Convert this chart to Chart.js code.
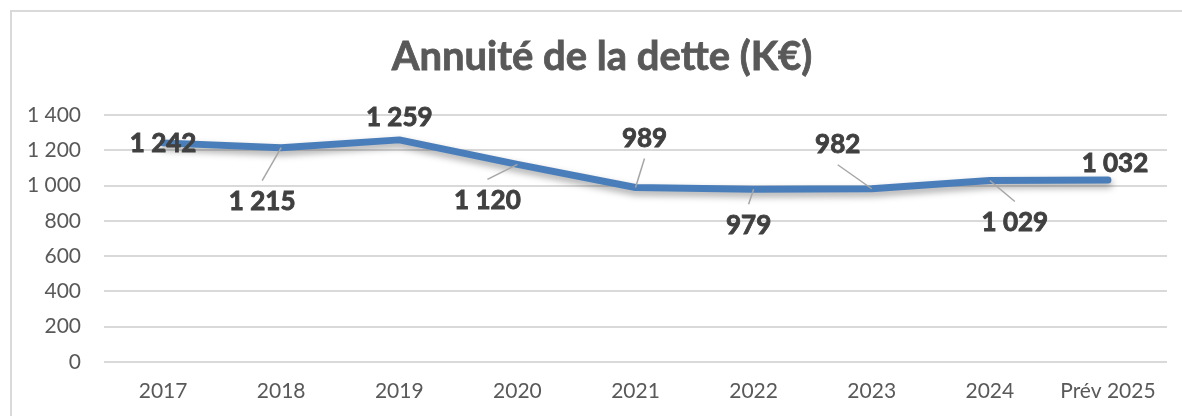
<!DOCTYPE html>
<html>
<head>
<meta charset="utf-8">
<script src="https://cdn.jsdelivr.net/npm/chart.js@4"></script>
<style>
  html, body { margin: 0; padding: 0; background: #ffffff; }
  #wrap { width: 1182px; height: 416px; position: relative; }
</style>
</head>
<body>
<div id="wrap"><canvas id="c" width="1182" height="416"></canvas></div>
<script>
const titleText = "Annuité de la dette (K€)";
const categories = ["2017", "2018", "2019", "2020", "2021", "2022", "2023", "2024", "Prév 2025"];
const annuite = [1242, 1215, 1259, 1120, 989, 979, 982, 1029, 1032];
const yTicks = [0, 200, 400, 600, 800, 1000, 1200, 1400];

function fmt(v) {
  return String(v).replace(/\B(?=(\d{3})+(?!\d))/g, " ");
}

const frame = {
  id: "frame",
  beforeDraw(chart) {
    const ctx = chart.ctx;
    ctx.save();
    ctx.fillStyle = "#ffffff";
    ctx.fillRect(0, 0, chart.width, chart.height);
    ctx.strokeStyle = "#d9d9d9";
    ctx.lineWidth = 2;
    ctx.beginPath();
    ctx.moveTo(11, chart.height);
    ctx.lineTo(11, 11);
    ctx.lineTo(chart.width, 11);
    ctx.stroke();
    ctx.fillStyle = "#595959";
    ctx.strokeStyle = "#595959";
    ctx.lineWidth = 0.8;
    ctx.font = "bold 40px Lato";
    ctx.textAlign = "center";
    ctx.textBaseline = "middle";
    ctx.fillText(titleText, 602, 57);
    ctx.strokeText(titleText, 602, 57);
    ctx.restore();
  }
};

const shadow = {
  id: "shadow",
  beforeDatasetDraw(chart) {
    const ctx = chart.ctx;
    ctx.save();
    ctx.shadowColor = "rgba(0,0,0,0.35)";
    ctx.shadowBlur = 7;
    ctx.shadowOffsetX = 1;
    ctx.shadowOffsetY = 4;
  },
  afterDatasetDraw(chart) {
    chart.ctx.restore();
  }
};

const labels = {
  id: "labels",
  afterDatasetsDraw(chart, args, opts) {
    const ctx = chart.ctx;
    const meta = chart.getDatasetMeta(0);
    const data = chart.data.datasets[0].data;
    ctx.save();
    meta.data.forEach((pt, i) => {
      const off = opts.offsets[i];
      const lx = pt.x + off[0];
      const ly = pt.y + off[1];
      if (opts.leaders[i]) {
        const sy = ly + (off[1] > 0 ? -21 : 20);
        ctx.strokeStyle = "#a6a6a6";
        ctx.lineWidth = 1.5;
        ctx.beginPath();
        ctx.moveTo(lx, sy);
        ctx.lineTo(pt.x, pt.y);
        ctx.stroke();
      }
      ctx.fillStyle = "#404040";
      ctx.strokeStyle = "#404040";
      ctx.lineWidth = 0.9;
      ctx.font = "bold 26px Lato";
      ctx.textAlign = "center";
      ctx.textBaseline = "middle";
      ctx.fillText(fmt(data[i]), lx, ly);
      ctx.strokeText(fmt(data[i]), lx, ly);
    });
    ctx.restore();
  }
};

new Chart(document.getElementById("c"), {
  type: "line",
  data: {
    labels: categories,
    datasets: [{
      data: annuite,
      borderColor: "#4a7ebb",
      borderWidth: 7,
      borderCapStyle: "round",
      borderJoinStyle: "round",
      pointRadius: 0,
      pointHoverRadius: 0,
      tension: 0,
      fill: false
    }]
  },
  plugins: [frame, shadow, labels],
  options: {
    responsive: false,
    animation: false,
    events: [],
    layout: { padding: { left: 0, right: 15, top: 115, bottom: 0 } },
    plugins: {
      legend: { display: false },
      title: { display: false },
      tooltip: { enabled: false },
      labels: {
        offsets: [[0, 1], [-19, 54], [0, -22], [-30, 36], [9, -49], [-5, 36], [-34, -44], [25, 42], [7, -16]],
        leaders: [false, true, false, true, true, true, true, true, false]
      }
    },
    scales: {
      x: {
        offset: true,
        grid: { display: false, drawTicks: false },
        border: { display: false },
        ticks: { color: "#595959", font: { family: "Lato", size: 21 }, padding: 17, maxRotation: 0, autoSkip: false },
        afterFit(s) { s.height = 54; }
      },
      y: {
        min: 0,
        max: 1400,
        afterBuildTicks(s) { s.ticks = yTicks.map(v => ({ value: v })); },
        grid: { color: "#d9d9d9", lineWidth: 2, drawTicks: false },
        border: { display: false },
        ticks: { color: "#595959", font: { family: "Lato", size: 21 }, padding: 23, callback: v => fmt(v) },
        afterFit(s) { s.width = 104; }
      }
    }
  }
});
</script>
</body>
</html>
